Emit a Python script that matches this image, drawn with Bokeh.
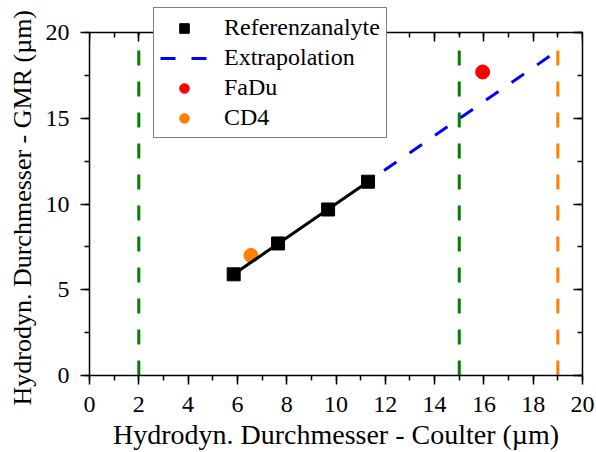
from bokeh.plotting import figure
from bokeh.models import (LinearAxis, SingleIntervalTicker, Legend, LegendItem, Range1d, Title,
                          CustomLabelingPolicy)
from bokeh.embed import file_html
from bokeh.resources import INLINE

# data
ref_x = [5.85, 7.65, 9.68, 11.3]
ref_y = [5.9, 7.7, 9.68, 11.3]
fit_x = [5.85, 11.3]
fit_y = [5.9, 11.3]
extra_x = [11.95, 18.7]
extra_y = [11.95, 18.65]
fadu_x = [15.95]
fadu_y = [17.7]
cd4_x = [6.55]
cd4_y = [7.0]
green_lines_x = [2, 15]
orange_lines_x = [19]
x_lim = (0, 20)
y_lim = (0, 20)
x_title = "Hydrodyn. Durchmesser - Coulter (µm)"
y_title = "Hydrodyn. Durchmesser - GMR (µm)"

FONT = "'Liberation Serif', 'Times New Roman', serif"
TICK_FS = "24px"
XTITLE_FS = "28px"
YTITLE_FS = "26px"
LEG_FS = "24px"

# layout (pixels)
W, H = 596, 452
FRAME_TOP = 6        # top of drawing area (legend needs room above the axes box)
AX_TOP = 32          # where y = 20 sits
FRAME_BOTTOM = 375
y_end = y_lim[1] * (FRAME_BOTTOM - FRAME_TOP) / (FRAME_BOTTOM - AX_TOP)

p = figure(width=W, height=H, x_range=Range1d(*x_lim), y_range=Range1d(y_lim[0], y_end),
           output_backend="svg", toolbar_location=None,
           min_border_left=88, min_border_top=FRAME_TOP, min_border_right=W - 582,
           min_border_bottom=H - FRAME_BOTTOM,
           x_axis_label=x_title)
p.grid.visible = False
p.outline_line_color = None
p.background_fill_color = "white"
p.border_fill_color = "white"

p.xaxis.ticker = SingleIntervalTicker(interval=2, num_minor_ticks=2)
p.yaxis.ticker = SingleIntervalTicker(interval=5, num_minor_ticks=2)
p.yaxis.bounds = y_lim

for ax in (p.xaxis[0], p.yaxis[0]):
    ax.axis_line_width = 1.5
    ax.major_tick_line_width = 1.5
    ax.minor_tick_line_width = 1.5
    ax.major_tick_out = 9
    ax.major_tick_in = 0
    ax.minor_tick_out = 5
    ax.minor_tick_in = 0
    ax.major_label_text_font = FONT
    ax.major_label_text_font_size = TICK_FS
    ax.major_label_text_color = "black"
    ax.axis_label_text_font = FONT
    ax.axis_label_text_font_size = XTITLE_FS
    ax.axis_label_text_font_style = "normal"
    ax.axis_label_text_color = "black"
p.xaxis.major_label_standoff = 12
p.xaxis.axis_label_standoff = 4
p.yaxis.major_label_standoff = 11

ytitle = Title(text=y_title, align="left", offset=FRAME_BOTTOM - 405,
               text_font=FONT, text_font_size=YTITLE_FS, text_font_style="normal",
               text_color="black", standoff=11)
p.add_layout(ytitle, "left")

no_labels = CustomLabelingPolicy(code="return new indices.constructor(indices.size)")

top_ax = LinearAxis(ticker=SingleIntervalTicker(interval=2, num_minor_ticks=2), fixed_location=y_lim[1])
right_ax = LinearAxis(ticker=SingleIntervalTicker(interval=5, num_minor_ticks=2), bounds=y_lim)
for ax in (top_ax, right_ax):
    ax.axis_line_width = 1.5
    ax.major_tick_line_width = 1.5
    ax.minor_tick_line_width = 1.5
    ax.major_tick_out = 0
    ax.major_tick_in = 9
    ax.minor_tick_out = 0
    ax.minor_tick_in = 5
    ax.major_label_policy = no_labels
    ax.major_label_text_font_size = "1px"
    ax.major_label_standoff = 0
p.add_layout(top_ax, "above")
p.add_layout(right_ax, "right")

# vertical dashed lines
p.segment(x0=green_lines_x, y0=[y_lim[0]] * len(green_lines_x), x1=green_lines_x, y1=[y_lim[1]] * len(green_lines_x),
          line_color="#008000", line_width=3, line_dash="15 16")
p.segment(x0=orange_lines_x, y0=[y_lim[0]] * len(orange_lines_x), x1=orange_lines_x, y1=[y_lim[1]] * len(orange_lines_x),
          line_color="#FF8000", line_width=3, line_dash="15 16")

r_cd4 = p.scatter(cd4_x, cd4_y, marker="circle", size=14, fill_color="#FF8000", line_color="#FF8000")
p.line(fit_x, fit_y, line_color="black", line_width=3)
r_ref = p.scatter(ref_x, ref_y, marker="square", size=13, fill_color="black", line_color="black")
r_ext = p.line(extra_x, extra_y, line_color="#0000FF", line_width=3, line_dash="15 16")
r_fadu = p.scatter(fadu_x, fadu_y, marker="circle", size=14, fill_color="#FF0000", line_color="#FF0000")

legend = Legend(items=[
    LegendItem(label="Referenzanalyte", renderers=[r_ref]),
    LegendItem(label="Extrapolation", renderers=[r_ext]),
    LegendItem(label="FaDu", renderers=[r_fadu]),
    LegendItem(label="CD4", renderers=[r_cd4]),
], location=(64, 237))
legend.margin = 0
legend.padding = 6
legend.spacing = 3
legend.glyph_width = 48
legend.glyph_height = 24
legend.label_standoff = 16
legend.label_height = 24
legend.label_text_font = FONT
legend.label_text_font_size = LEG_FS
legend.label_text_color = "black"
legend.border_line_color = "black"
legend.border_line_width = 1.2
legend.background_fill_color = "white"
legend.background_fill_alpha = 1.0
p.add_layout(legend, "center")

open("out.html", "w").write(file_html(p, INLINE))
